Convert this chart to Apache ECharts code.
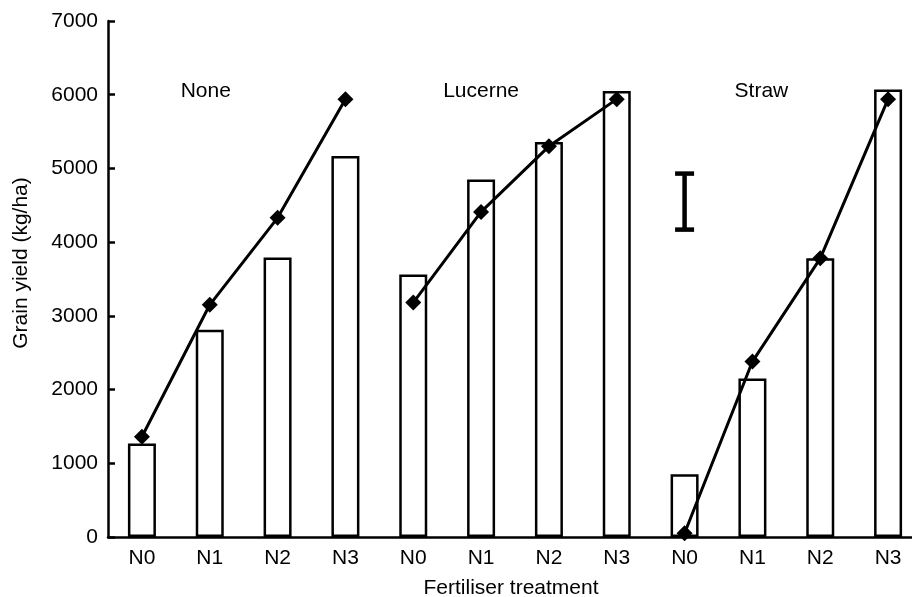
<!DOCTYPE html>
<html>
<head>
<meta charset="utf-8">
<script src="https://cdn.jsdelivr.net/npm/echarts@6/dist/echarts.min.js"></script>
<style>
  html, body { margin: 0; padding: 0; background: #fff; }
  #chart { width: 912px; height: 597px; }
</style>
</head>
<body>
<div id="chart"></div>
<script>
const categories = ['N0','N1','N2','N3','N0','N1','N2','N3','N0','N1','N2','N3'];
const groupNames = ['None','Lucerne','Straw'];
const groupLabelCategory = [1, 5, 9];
const groupLabelValue = 6050;
const barValues = [1270, 2810, 3790, 5170, 3560, 4850, 5360, 6050, 850, 2150, 3780, 6070];
const lineNone = [1360, 3150, 4330, 5940];
const lineLucerne = [3180, 4410, 5300, 5940];
const lineStraw = [50, 2380, 3780, 5940];
const errorCategory = 8;
const errorRange = [4170, 4930];
const yTicks = [0, 1000, 2000, 3000, 4000, 5000, 6000, 7000];

const FONT = 'Liberation Sans, Arial, Helvetica, sans-serif';
const FS = 21;
const lineGroups = [lineNone, lineLucerne, lineStraw];

function groupSeries(vals, g) {
  const data = categories.map(() => null);
  vals.forEach((v, i) => { data[g * 4 + i] = v; });
  return {
    type: 'line',
    data: data,
    connectNulls: false,
    symbol: 'diamond',
    symbolSize: 16,
    lineStyle: { color: '#000', width: 3 },
    itemStyle: { color: '#000' },
    z: 5
  };
}

const labelOffsets = [-4, 0, 9];

const option = {
  animation: false,
  backgroundColor: '#fff',
  grid: { left: 108, width: 814, top: 21, bottom: 60, containLabel: false, outerBoundsMode: 'none' },
  xAxis: {
    type: 'category',
    data: categories,
    boundaryGap: true,
    name: 'Fertiliser treatment',
    nameLocation: 'middle',
    nameGap: 41,
    nameTextStyle: { color: '#000', fontSize: FS, fontFamily: FONT, padding: [0, 0, 0, -8] },
    axisLine: { lineStyle: { color: '#000', width: 2.5 } },
    axisTick: { show: false },
    axisLabel: { color: '#000', fontSize: FS, fontFamily: FONT, margin: 11 },
    splitLine: { show: false }
  },
  yAxis: {
    type: 'value',
    min: yTicks[0],
    max: yTicks[yTicks.length - 1],
    interval: 1000,
    name: 'Grain yield (kg/ha)',
    nameLocation: 'middle',
    nameGap: 76,
    nameTextStyle: { color: '#000', fontSize: FS, fontFamily: FONT, padding: [0, 0, 0, 32] },
    axisLine: { show: true, lineStyle: { color: '#000', width: 2.5 } },
    axisTick: { show: true, inside: true, length: 7, lineStyle: { color: '#000', width: 2.5 } },
    axisLabel: { color: '#000', fontSize: FS, fontFamily: FONT, margin: 10, formatter: v => String(v) },
    splitLine: { show: false }
  },
  series: [
    {
      type: 'bar',
      data: barValues,
      barWidth: 28,
      itemStyle: { color: '#fff', borderColor: '#000', borderWidth: 2.5 },
      z: 2
    },
    groupSeries(lineGroups[0], 0),
    groupSeries(lineGroups[1], 1),
    groupSeries(lineGroups[2], 2),
    {
      type: 'custom',
      data: [[errorCategory, errorRange[0], errorRange[1]]],
      renderItem: function (params, api) {
        const x = api.value(0);
        const lo = api.coord([x, api.value(1)]);
        const hi = api.coord([x, api.value(2)]);
        const half = 9.5;
        const st = { stroke: '#000', lineWidth: 4.5, fill: null };
        return {
          type: 'group',
          children: [
            { type: 'line', shape: { x1: lo[0], y1: lo[1], x2: hi[0], y2: hi[1] }, style: st },
            { type: 'line', shape: { x1: lo[0] - half, y1: lo[1], x2: lo[0] + half, y2: lo[1] }, style: st },
            { type: 'line', shape: { x1: hi[0] - half, y1: hi[1], x2: hi[0] + half, y2: hi[1] }, style: st }
          ]
        };
      },
      z: 6
    },
    {
      type: 'custom',
      data: groupNames.map((n, i) => [groupLabelCategory[i], groupLabelValue, i]),
      renderItem: function (params, api) {
        const p = api.coord([api.value(0), api.value(1)]);
        const i = api.value(2);
        return {
          type: 'text',
          x: p[0] + labelOffsets[i],
          y: p[1],
          style: {
            text: groupNames[i],
            fill: '#000',
            font: FS + 'px ' + FONT,
            textAlign: 'center',
            textVerticalAlign: 'middle'
          }
        };
      },
      silent: true,
      z: 7
    }
  ]
};

const chart = echarts.init(document.getElementById('chart'), null, { renderer: 'canvas' });
chart.setOption(option);
</script>
</body>
</html>
